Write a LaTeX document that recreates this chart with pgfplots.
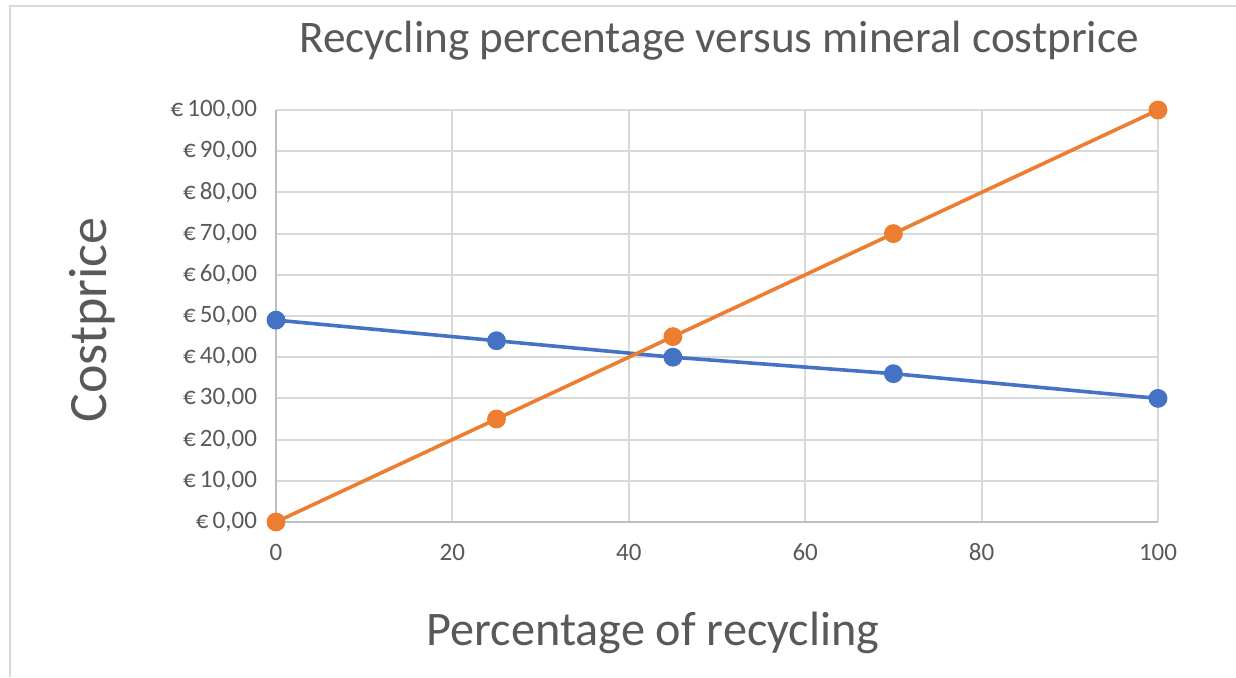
\documentclass[border=0pt]{standalone}
\usepackage{pgfplots}
\pgfplotsset{compat=1.18}
\usepackage{fontspec}
\setmainfont{Carlito}

\definecolor{exblue}{HTML}{4472C4}
\definecolor{exorange}{HTML}{ED7D31}
\definecolor{gridgray}{HTML}{D9D9D9}
\definecolor{axgray}{HTML}{BFBFBF}
\definecolor{txtgray}{HTML}{595959}

\begin{document}
\begin{tikzpicture}
\begin{axis}[
    at={(0,0)}, anchor=south west,
    scale only axis,
    width=441pt, height=206pt,
    xmin=0, xmax=100,
    ymin=0, ymax=100,
    xtick={0,20,...,100},
    ytick={0,10,...,100},
    axis line style={axgray, line width=0.9pt},
    axis x line*=bottom,
    axis y line*=left,
    xmajorgrids, ymajorgrids,
    grid style={gridgray, line width=1pt},
    major tick length=0pt,
    /pgf/number format/assume math mode=true,
    ticklabel style={font=\fontsize{12.5}{14}\selectfont, text=txtgray},
    xticklabel style={anchor=base, yshift=-19pt},
    yticklabel style={anchor=east, xshift=-6pt},
    yticklabel={€\,\pgfmathprintnumber[fixed, fixed zerofill, precision=2, use comma]{\tick}},
    title={Recycling percentage versus mineral costprice},
    title style={font=\fontsize{22.6}{26}\selectfont, text=txtgray, at={(221.5pt,206pt)}, anchor=base, yshift=23pt},
    xlabel={Percentage of recycling},
    xlabel style={font=\fontsize{24.1}{28}\selectfont, text=txtgray, at={(188.5pt,0pt)}, anchor=base, yshift=-61.5pt},
    ylabel={Costprice},
    ylabel style={font=\fontsize{27}{32}\selectfont, text=txtgray, at={(-84.5pt,101pt)}, anchor=base},
    clip=false,
]
\addplot[exblue, line width=1.8pt, mark=*, mark size=3.8pt, mark options={fill=exblue, draw=exblue}]
    coordinates {(0,49) (25,44) (45,40) (70,36) (100,30)};
\addplot[exorange, line width=1.8pt, mark=*, mark size=3.8pt, mark options={fill=exorange, draw=exorange}]
    coordinates {(0,0) (25,25) (45,45) (70,70) (100,100)};
\end{axis}
\draw[gridgray, line width=1pt] (-133pt,-77.5pt) -- (-133pt,258pt) -- (480pt,258pt);
\pgfresetboundingbox
\path[use as bounding box] (-138pt,-77.5pt) rectangle (480pt,261pt);
\end{tikzpicture}
\end{document}
